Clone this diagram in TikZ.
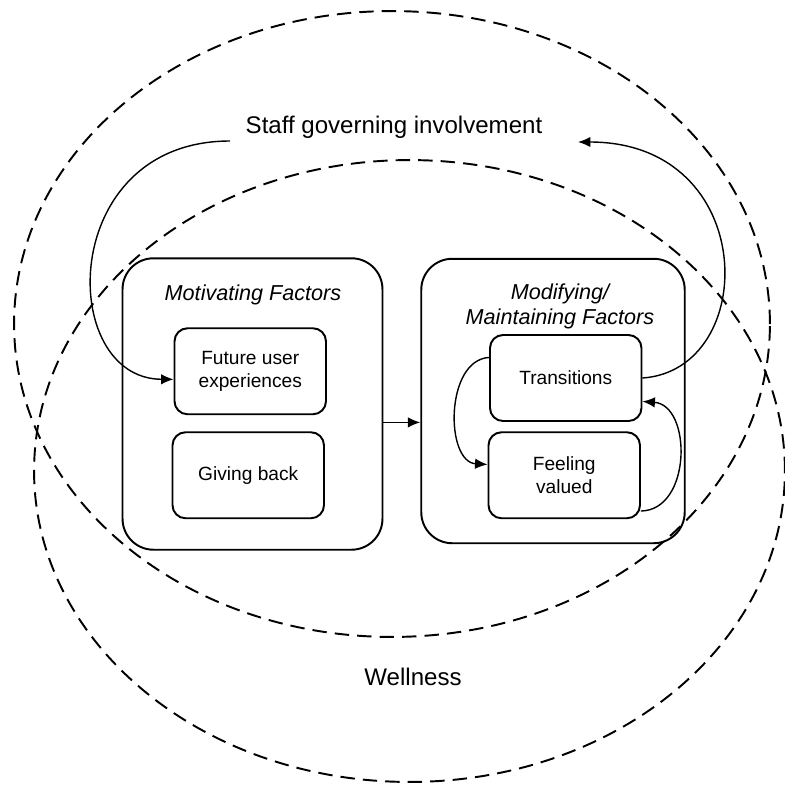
\documentclass[tikz,border=0pt]{standalone}
\usepackage{fontspec}
\setmainfont{Liberation Sans}
\usetikzlibrary{arrows.meta,positioning}
\tikzset{
  factor/.style   = {shape=rectangle, rounded corners=0.62cm, draw,
                     line width=1.1pt, inner sep=0pt},
  item/.style     = {shape=rectangle, rounded corners=0.26cm, draw,
                     line width=1.1pt, align=center, inner sep=0pt,
                     minimum width=3.03cm, minimum height=1.72cm,
                     font=\fontsize{10.9}{13}\selectfont},
  heading/.style  = {align=center, font=\itshape\fontsize{12.3}{14.2}\selectfont},
  ringtext/.style = {font=\fontsize{13.7}{16}\selectfont},
  ring/.style     = {dash pattern=on 8.2pt off 4.6pt, line width=1.1pt},
  link/.style     = {-{Latex[length=2.5mm,width=2.1mm]}, line width=0.8pt}
}

\begin{document}
\begin{tikzpicture}[x=0.02cm, y=-0.02cm]
\useasboundingbox (0,0) rectangle (785,789);
% the two rings
\draw[ring] (392,324) ellipse [x radius=7.56cm, y radius=6.26cm];
\draw[ring] (409.5,471) ellipse [x radius=7.51cm, y radius=6.22cm];
\node[ringtext] (staff) at (394,127) {Staff governing involvement};
\node[ringtext] (well) at (413,677) {Wellness};
% factor boxes
\node[factor, minimum width=5.2cm, minimum height=5.83cm] (motiv) at (252.5,404) {};
\node[heading] (motivtitle) at (253,295) {Motivating Factors};
\node[item] (future) at (250.25,371.25) {Future user\\experiences};
\node[item] (giving) at (248.25,475.25) {Giving back};
\node[factor, minimum width=5.27cm, minimum height=5.69cm] (modif) at (553,401) {};
\node[heading] (modiftitle) at (560,306) {Modifying/\\Maintaining Factors};
\node[item] (transit) at (565.75,378) {Transitions};
\node[item] (feeling) at (564.25,475.25) {Feeling\\valued};
\coordinate (staffout) at (230,141);
\coordinate (staffin) at (578,142);
% connectors
\draw[link] (motiv.-8) -- (motiv.-8 -| modif.west);
\draw[link] (staffout) .. controls (57,141) and (57,379) .. (future.186);
\draw[link] (transit.east) .. controls (760,370) and (760,142) .. (staffin);
\draw[link] (transit.165) .. controls (445,360) and (445,462) .. (feeling.172);
\draw[link] (feeling.-25) .. controls (692,510) and (692,405) .. (transit.-17);
\end{tikzpicture}
\end{document}
